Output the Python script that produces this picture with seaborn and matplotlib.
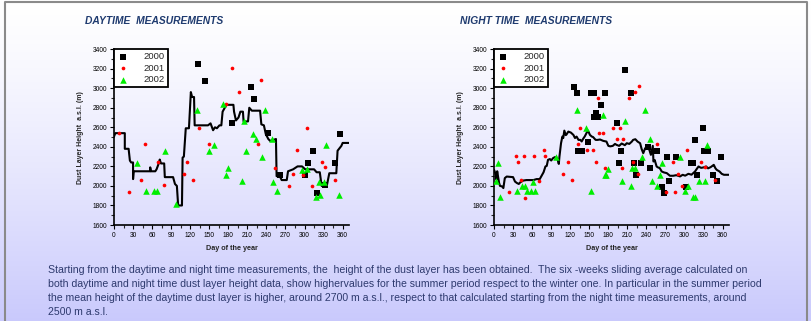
import numpy as np
import pandas as pd
import matplotlib.pyplot as plt
import seaborn as sns
from matplotlib.ticker import MultipleLocator

sns.set_style('ticks')
plt.rcParams['font.family'] = ['Liberation Sans', 'DejaVu Sans']

# ---------------- DAYTIME data ----------------
day_2000_x = [132, 144, 215, 221, 186, 243, 306, 314, 300, 320, 333, 348, 356, 262]
day_2000_y = [3250, 3070, 3010, 2890, 2640, 2540, 2235, 2360, 2110, 1930, 2010, 2235, 2530, 2115]

day_2001_x = [8, 24, 42, 49, 70, 78, 110, 115, 125, 134, 149, 176, 185, 197, 232, 226,
              253, 276, 282, 288, 304, 311, 327, 333, 348, 297]
day_2001_y = [2540, 1940, 2060, 2430, 2245, 2005, 2125, 2245, 2060, 2590, 2425, 2840, 3205, 2960, 3085, 2425,
              2180, 2000, 2125, 2370, 2590, 2000, 2245, 2190, 2060, 2115]

day_2002_x = [36, 51, 63, 67, 80, 98, 131, 149, 157, 171, 176, 180, 201, 205, 208, 219, 223,
              233, 237, 249, 251, 256, 296, 304, 318, 324, 322, 331, 334, 354]
day_2002_y = [2235, 1950, 1950, 1945, 2355, 1820, 2775, 2355, 2415, 2835, 2115, 2180, 2055, 2665, 2355, 2530, 2480,
              2295, 2775, 2480, 2045, 1945, 2160, 2175, 1890, 1905, 2045, 2040, 2415, 1905]

# six-week sliding average (traced vertices)
day_avg_x = [0, 2, 17, 17, 23, 25, 27, 30, 30, 31, 57, 57, 58, 65, 67, 71, 72, 74, 79, 80, 93, 96, 99,
             101, 107, 108, 110, 113, 118, 121, 123, 126, 127, 148, 152, 156, 159, 162, 166, 169, 171,
             177, 188, 189, 192, 196, 199, 203, 204, 211, 213, 217, 230, 232, 236, 239, 243, 246, 255,
             256, 261, 264, 272, 274, 282, 289, 296, 301, 315, 319, 324, 327, 335, 339, 350, 352, 358,
             360, 370]
day_avg_y = [2505, 2540, 2540, 2380, 2380, 2260, 2240, 2240, 2070, 2150, 2150, 2190, 2150, 2150, 2170,
             2240, 2270, 2230, 2230, 2090, 2090, 2020, 2000, 1800, 1800, 2290, 2300, 2590, 2590, 2960,
             2910, 2910, 2620, 2620, 2640, 2570, 2600, 2590, 2620, 2620, 2760, 2830, 2830, 2760, 2670,
             2700, 2760, 2760, 2660, 2660, 2800, 2770, 2770, 2630, 2620, 2530, 2480, 2460, 2480, 2100,
             2100, 2060, 2060, 2150, 2170, 2200, 2200, 2170, 2170, 2140, 2140, 2000, 2000, 2130, 2130,
             2360, 2410, 2440, 2440]

# ---------------- NIGHT TIME data ----------------
night_2000_x = [126, 130, 132, 139, 148, 152, 157, 158, 161, 164, 168, 175, 193, 196, 200, 207, 215,
                220, 224, 232, 243, 246, 257, 264, 267, 272, 275, 287, 302, 310, 314, 316, 320, 329,
                331, 337, 344, 351, 357]
night_2000_y = [3010, 2950, 2360, 2360, 2450, 2950, 2950, 2705, 2750, 2705, 2830, 2950, 2640, 2235, 2360,
                3185, 2950, 2235, 2110, 2235, 2395, 2180, 2360, 1990, 1930, 2300, 2055, 2300, 1990, 2235,
                2235, 2470, 2115, 2595, 2360, 2360, 2115, 2050, 2295]

night_2001_x = [24, 35, 38, 47, 43, 49, 63, 71, 78, 81, 109, 116, 123, 132, 135, 147, 156, 160, 163,
                165, 172, 175, 188, 194, 198, 201, 203, 213, 222, 219, 226, 229, 257, 271, 282, 285,
                289, 296, 304, 326, 332, 348]
night_2001_y = [1940, 2305, 2245, 2305, 2065, 1880, 2305, 2055, 2370, 2305, 2125, 2245, 2060, 2430, 2590,
                2370, 2370, 2245, 2895, 2540, 2540, 2185, 2590, 2480, 2590, 2185, 2480, 2900, 2960, 2245,
                2120, 3020, 2425, 1935, 2245, 1935, 2120, 2000, 2370, 2245, 2190, 2065]

night_2002_x = [3, 7, 10, 36, 44, 48, 52, 58, 64, 61, 98, 130, 145, 152, 171, 174, 177, 180, 201, 206,
                215, 218, 222, 233, 237, 245, 249, 256, 261, 265, 293, 300, 306, 313, 316, 322, 332, 335]
night_2002_y = [2050, 2235, 1885, 1950, 2000, 1995, 1950, 1950, 1950, 2045, 2300, 2775, 2595, 1950, 2725,
                2115, 2115, 2175, 2055, 2665, 2000, 2180, 2180, 2300, 2775, 2480, 2055, 2000, 2115, 2235,
                2295, 1945, 2000, 1885, 1885, 2055, 2055, 2420]

night_avg_x = [0, 1, 3, 4, 5, 8, 9.5, 12.6, 14.7, 17, 20, 30, 33, 36, 39, 41, 46, 51, 62, 67, 72, 75,
               78, 81, 83, 85, 88, 90, 93, 96, 100, 102, 103, 105.5, 107.6, 109, 110.7, 113, 114, 117,
               121, 125, 127.5, 130, 133, 136, 138, 140.6, 143, 146, 148, 151, 154, 156, 160, 163, 167,
               172, 177, 180, 183, 187, 190.5, 193, 197, 201, 206, 209, 213, 217, 219, 222.5, 226, 230,
               232.5, 235, 238, 241, 244.6, 247, 250, 251, 253, 256, 258, 261, 264, 267.6, 272, 277,
               282, 287, 293, 297, 301, 306, 311, 316.5, 319, 322, 326, 329.6, 334, 337, 341, 344, 346,
               348.5, 350.6, 355, 358.5, 362, 370]
night_avg_y = [2165, 2150, 2110, 2063, 2150, 2030, 2000, 1995, 1978, 2080, 2096, 2090, 2045, 2030, 2020,
               2035, 2055, 2060, 2060, 2070, 2070, 2105, 2140, 2200, 2205, 2267, 2275, 2260, 2285, 2295,
               2275, 2225, 2300, 2437, 2505, 2490, 2566, 2520, 2525, 2556, 2546, 2522, 2490, 2505, 2471,
               2471, 2455, 2485, 2508, 2546, 2566, 2522, 2505, 2500, 2471, 2471, 2475, 2461, 2454, 2410,
               2405, 2410, 2430, 2420, 2410, 2434, 2417, 2437, 2430, 2454, 2471, 2478, 2454, 2437, 2376,
               2335, 2386, 2396, 2369, 2318, 2410, 2250, 2265, 2199, 2190, 2182, 2148, 2138, 2131, 2104,
               2104, 2110, 2097, 2114, 2105, 2124, 2115, 2148, 2172, 2199, 2185, 2189, 2199, 2180, 2192,
               2206, 2216, 2182, 2165, 2148, 2124, 2114, 2114]

years = ['2000', '2001', '2002']
markers = {'2000': 's', '2001': 'o', '2002': '^'}
palette = {'2000': 'black', '2001': '#ff0000', '2002': '#00ee00'}


def make_points(xs, ys):
    frames = []
    for yr, x, y in zip(years, xs, ys):
        frames.append(pd.DataFrame({'day': x, 'height': y, 'year': yr}))
    return pd.concat(frames, ignore_index=True)


fig = plt.figure(figsize=(8.12, 3.21), dpi=100)

# gradient background
bg = fig.add_axes([0, 0, 1, 1], zorder=-10)
grad = np.linspace(0, 1, 256) ** 1.3
img = np.zeros((256, 1, 3))
img[:, 0, 0] = 1 - 0.21 * grad
img[:, 0, 1] = 1 - 0.21 * grad
img[:, 0, 2] = 1 - 0.01 * grad
bg.imshow(img, aspect='auto', extent=[0, 1, 0, 1], origin='upper')
bg.plot([0.006, 0.006, 0.994, 0.994], [0, 0.994, 0.994, 0], color='#8a8a8a', lw=1.5,
        transform=bg.transAxes, clip_on=False)
bg.set_xlim(0, 1)
bg.set_ylim(0, 1)
bg.axis('off')

panels = [
    (0.1404, 'DAYTIME  MEASUREMENTS', 0.105,
     (day_2000_x, day_2001_x, day_2002_x), (day_2000_y, day_2001_y, day_2002_y),
     day_avg_x, day_avg_y, {'2000': 16, '2001': 7, '2002': 22}),
    (0.6084, 'NIGHT TIME  MEASUREMENTS', 0.566,
     (night_2000_x, night_2001_x, night_2002_x), (night_2000_y, night_2001_y, night_2002_y),
     night_avg_x, night_avg_y, {'2000': 24, '2001': 7, '2002': 22}),
]

for left, title, title_x, xs, ys, avg_x, avg_y, sizes in panels:
    ax = fig.add_axes([left, 0.299, 0.2894, 0.548])
    ax.patch.set_alpha(0)
    pts = make_points(xs, ys)
    avg = pd.DataFrame({'day': avg_x, 'height': avg_y})
    sns.lineplot(data=avg, x='day', y='height', sort=False, estimator=None,
                 color='black', lw=1.5, ax=ax, zorder=3)
    for yr in years:
        sub = pts[pts['year'] == yr]
        sns.scatterplot(data=sub, x='day', y='height', marker=markers[yr], color=palette[yr],
                        s=sizes[yr], edgecolor=palette[yr], linewidth=0, ax=ax, label=yr,
                        zorder=4 if yr != '2000' else 2)
    ax.set_xlim(0, 370)
    ax.set_ylim(1600, 3400)
    ax.xaxis.set_major_locator(MultipleLocator(30))
    ax.xaxis.set_minor_locator(MultipleLocator(15))
    ax.yaxis.set_major_locator(MultipleLocator(200))
    ax.yaxis.set_minor_locator(MultipleLocator(100))
    ax.set_xticks(np.arange(0, 361, 30))
    ax.tick_params(which='major', length=3, width=0.8, labelsize=4.8, pad=2, colors='black')
    ax.tick_params(which='minor', length=2, width=0.8)
    sns.despine(ax=ax)
    for sp in ['left', 'bottom']:
        ax.spines[sp].set_linewidth(1.2)
        ax.spines[sp].set_color('black')
    ax.set_xlabel('Day of the year', fontsize=5.2, fontweight='bold', labelpad=4)
    ax.set_ylabel('Dust Layer Height  a.s.l. (m)', fontsize=5, fontweight='bold', labelpad=6)
    leg = ax.legend(loc='upper left', bbox_to_anchor=(0.0, 1.0), borderaxespad=0, fontsize=6.8,
                    frameon=True, fancybox=False, framealpha=1, edgecolor='black', handletextpad=1.5,
                    borderpad=0.35, labelspacing=0.25, handlelength=1.3, markerscale=1.0)
    leg.get_frame().set_linewidth(1.3)
    fig.text(title_x, 0.935, title, fontsize=7.4, fontweight='bold', style='italic',
             color='#1f3b6f', ha='left', va='center')

body = ("Starting from the daytime and night time measurements, the  height of the dust layer has been obtained.  "
        "The six -weeks sliding average calculated on\n"
        "both daytime and night time dust layer height data, show highervalues for the summer period respect "
        "to the winter one. In particular in the summer period\n"
        "the mean height of the daytime dust layer is higher, around 2700 m a.s.l., respect to that calculated "
        "starting from the night time measurements, around\n"
        "2500 m a.s.l.")
fig.text(0.059, 0.176, body, fontsize=7.6, color='#2e3a6e', ha='left', va='top', linespacing=1.5)

fig.savefig('out.png', dpi=100)
